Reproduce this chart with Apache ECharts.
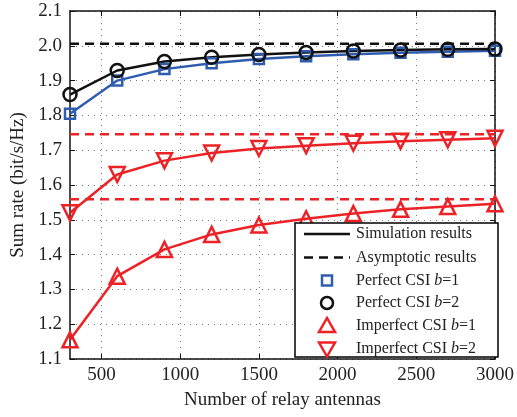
<!DOCTYPE html>
<html>
<head>
<meta charset="utf-8">
<script src="https://cdn.jsdelivr.net/npm/echarts@6/dist/echarts.min.js"></script>
<style>html,body{margin:0;padding:0;background:#fff}#c{width:517px;height:417px}</style>
</head>
<body>
<div id="c"></div>
<script>
const antennas = [300, 600, 900, 1200, 1500, 1800, 2100, 2400, 2700, 3000];
const perfectB1 = [1.805, 1.900, 1.933, 1.950, 1.962, 1.970, 1.976, 1.980, 1.983, 1.986];
const perfectB2 = [1.860, 1.929, 1.955, 1.967, 1.975, 1.981, 1.985, 1.988, 1.990, 1.991];
const imperfectB1 = [1.155, 1.338, 1.415, 1.458, 1.485, 1.503, 1.518, 1.530, 1.538, 1.546];
const imperfectB2 = [1.520, 1.630, 1.670, 1.692, 1.705, 1.713, 1.720, 1.726, 1.730, 1.734];
const asymPerfect = 2.006;
const asymImperfectB2 = 1.746;
const asymImperfectB1 = 1.559;
const xTicks = [500, 1000, 1500, 2000, 2500, 3000];
const legendLabels = ['Simulation results', 'Asymptotic results', 'Perfect CSI {i|b}=1', 'Perfect CSI {i|b}=2', 'Imperfect CSI {i|b}=1', 'Imperfect CSI {i|b}=2'];

const BLUE = '#2f5caf', BLACK = '#111', RED = '#ec2227';
const FONT = '"Liberation Serif", "Times New Roman", serif';

function pts(ys) { return antennas.map((x, i) => [x, ys[i]]); }
function asym(v) { return [[antennas[0], v], [antennas[antennas.length - 1], v]]; }

function markerSeries(name, ys, color, symbol, size, rotate) {
  return {
    name, type: 'line', data: pts(ys), z: 3,
    symbol, symbolSize: size, symbolRotate: rotate || 0,
    lineStyle: { color, width: 2.5 },
    itemStyle: { color: 'transparent', borderColor: color, borderWidth: 2.5 },
    emphasis: { disabled: true }, animation: false
  };
}
function dashSeries(v, color) {
  return {
    type: 'line', data: asym(v), symbol: 'none', z: 2,
    lineStyle: { color, width: 2.5, type: [9, 6] }, animation: false
  };
}

const chart = echarts.init(document.getElementById('c'), null, { renderer: 'canvas' });
const gridLine = { show: true, lineStyle: { color: '#777', width: 1, type: [1, 5] } };

// Legend drawn as graphic
const lx0 = 295, ly0 = 223, lw = 203, lh = 134;
const rowY = [234, 257.5, 280.5, 303, 326, 348.5];
const mx = 327, tx = 356;
const g = [
  { type: 'rect', shape: { x: lx0, y: ly0, width: lw, height: lh }, style: { fill: '#fff', stroke: '#000', lineWidth: 1.5 }, z: 10 },
  { type: 'line', shape: { x1: 304, y1: rowY[0], x2: 350, y2: rowY[0] }, style: { stroke: BLACK, lineWidth: 2.5 }, z: 11 },
  { type: 'line', shape: { x1: 304, y1: rowY[1], x2: 350, y2: rowY[1] }, style: { stroke: BLACK, lineWidth: 2.5, lineDash: [9, 6] }, z: 11 },
  { type: 'rect', shape: { x: mx - 5, y: rowY[2] - 5, width: 10, height: 10 }, style: { fill: 'none', stroke: BLUE, lineWidth: 2.5 }, z: 11 },
  { type: 'circle', shape: { cx: mx, cy: rowY[3], r: 6 }, style: { fill: 'none', stroke: BLACK, lineWidth: 2.5 }, z: 11 },
  { type: 'polygon', shape: { points: [[mx, rowY[4] - 8], [mx - 8, rowY[4] + 6], [mx + 8, rowY[4] + 6]] }, style: { fill: 'none', stroke: RED, lineWidth: 2.5 }, z: 11 },
  { type: 'polygon', shape: { points: [[mx, rowY[5] + 8], [mx - 8, rowY[5] - 6], [mx + 8, rowY[5] - 6]] }, style: { fill: 'none', stroke: RED, lineWidth: 2.5 }, z: 11 }
];
legendLabels.forEach((t, i) => {
  g.push({
    type: 'text', x: tx, y: rowY[i], z: 11,
    style: {
      text: t, fill: '#222', font: '16px ' + FONT, textVerticalAlign: 'middle', verticalAlign: 'middle',
      rich: { i: { fontStyle: 'italic', fontSize: 16, fontFamily: FONT, fill: '#222' } }
    }
  });
});

const option = {
  backgroundColor: '#fff',
  animation: false,
  grid: { left: 70, right: 18, top: 11, bottom: 58, containLabel: false },
  xAxis: [{
    type: 'value', min: 300, max: 3000, position: 'bottom',
    name: 'Number of relay antennas', nameLocation: 'middle', nameGap: 32,
    nameTextStyle: { fontFamily: FONT, fontSize: 19, color: '#222' },
    axisLine: { show: true, onZero: false, lineStyle: { color: '#111', width: 1.5 } },
    axisTick: { show: true, inside: true, length: 5, customValues: xTicks, lineStyle: { color: '#111' } },
    axisLabel: { customValues: xTicks, fontFamily: FONT, fontSize: 19, color: '#222', margin: 7, formatter: v => String(v) },
    splitLine: gridLine
  }, {
    type: 'value', min: 300, max: 3000, position: 'top',
    axisLine: { show: true, onZero: false, lineStyle: { color: '#111', width: 1.5 } },
    axisTick: { show: true, inside: true, length: 5, customValues: xTicks, lineStyle: { color: '#111' } },
    axisLabel: { show: false }, splitLine: { show: false }
  }],
  yAxis: [{
    type: 'value', min: 1.1, max: 2.1, interval: 0.1, position: 'left',
    name: 'Sum rate (bit/s/Hz)', nameLocation: 'middle', nameGap: 42,
    nameTextStyle: { fontFamily: FONT, fontSize: 19, color: '#222' },
    axisLine: { show: true, onZero: false, lineStyle: { color: '#111', width: 1.5 } },
    axisTick: { show: true, inside: true, length: 5, lineStyle: { color: '#111' } },
    axisLabel: { fontFamily: FONT, fontSize: 19, color: '#222', margin: 8, formatter: v => v.toFixed(1) },
    splitLine: gridLine
  }, {
    type: 'value', min: 1.1, max: 2.1, interval: 0.1, position: 'right',
    axisLine: { show: true, onZero: false, lineStyle: { color: '#111', width: 1.5 } },
    axisTick: { show: true, inside: true, length: 5, lineStyle: { color: '#111' } },
    axisLabel: { show: false }, splitLine: { show: false }
  }],
  series: [
    dashSeries(asymPerfect, BLACK),
    dashSeries(asymImperfectB2, RED),
    dashSeries(asymImperfectB1, RED),
    markerSeries('Perfect CSI b=1', perfectB1, BLUE, 'rect', 10),
    markerSeries('Perfect CSI b=2', perfectB2, BLACK, 'circle', 13),
    markerSeries('Imperfect CSI b=1', imperfectB1, RED, 'triangle', 15),
    markerSeries('Imperfect CSI b=2', imperfectB2, RED, 'triangle', 15, 180)
  ],
  graphic: g
};
chart.setOption(option);
</script>
</body>
</html>
